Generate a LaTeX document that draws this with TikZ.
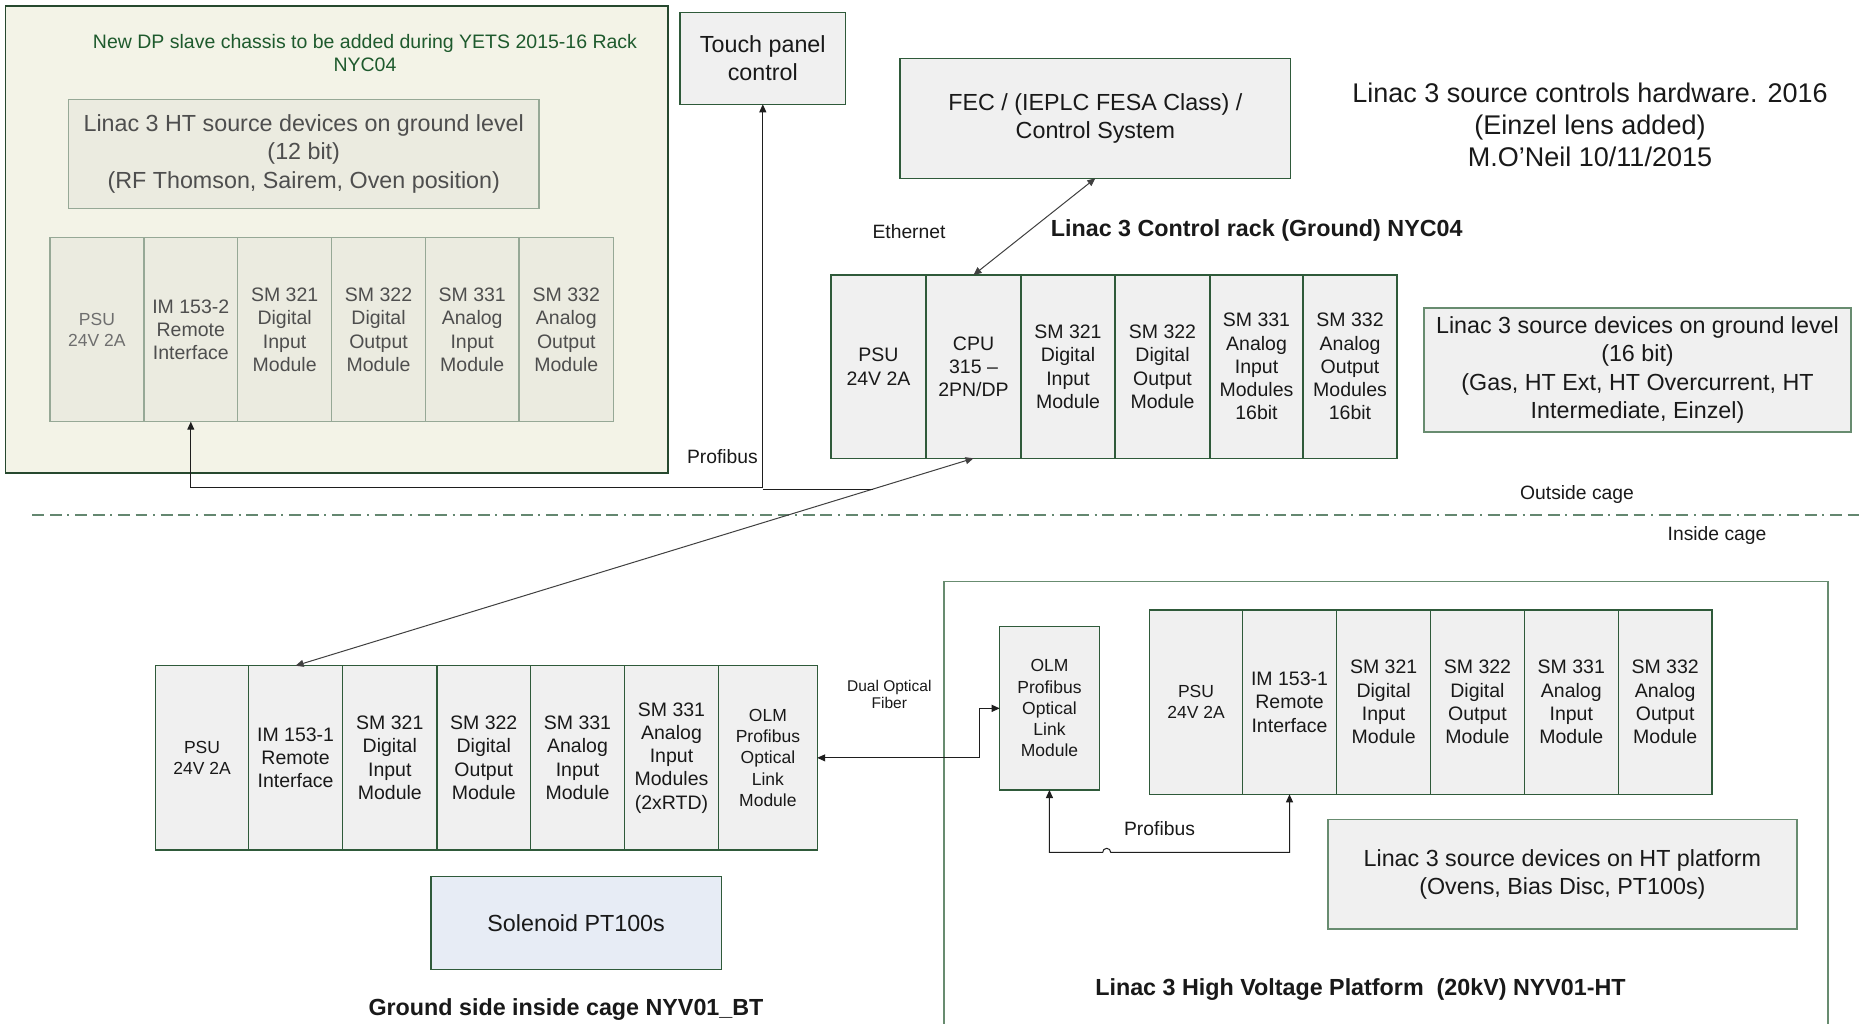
\documentclass[tikz,border=0pt]{standalone}
\usepackage{fontspec}
\setmainfont{Liberation Sans}
\usetikzlibrary{arrows.meta,calc,intersections}

\definecolor{framegreen}{RGB}{47,90,58}
\definecolor{softgreen}{RGB}{104,140,112}
\definecolor{cellfill}{RGB}{240,240,240}
\definecolor{sandfill}{RGB}{243,243,231}
\definecolor{sandcell}{RGB}{235,235,224}
\definecolor{sandedge}{RGB}{150,168,150}
\definecolor{sandtext}{RGB}{78,78,78}
\definecolor{sandpale}{RGB}{110,110,110}
\definecolor{titlegreen}{RGB}{30,90,45}
\definecolor{bluefill}{RGB}{231,236,245}
\definecolor{wireink}{RGB}{30,30,30}
\definecolor{cagegreen}{RGB}{100,135,112}
\definecolor{inktext}{RGB}{25,25,25}

\newcommand\fs[2]{\fontsize{#1}{#2}\selectfont}

\tikzset{
  box/.style={draw=framegreen, line width=1.4pt, fill=cellfill, inner sep=0pt,
    outer sep=0pt, align=center, text=inktext, anchor=north west},
  modtext/.style={font=\fs{19.5}{23.3}},
  smalltext/.style={font=\fs{17.5}{21.2}},
  bigtext/.style={font=\fs{23.3}{28.2}},
  sandbox/.style={box, draw=sandedge, fill=sandcell, text=sandtext},
  tip/.tip={Triangle[length=8pt,width=7pt]},
  wire/.style={draw=wireink, line width=1pt, tip-tip},
  plainwire/.style={draw=wireink, line width=1pt},
  tag/.style={font=\fs{19.3}{23}, inner sep=0pt, text=inktext, align=center},
  heading/.style={font=\bfseries\fs{23.3}{28}, inner sep=0pt, text=inktext},
}

\begin{document}
\begin{tikzpicture}[x=1pt,y=-1pt]
\useasboundingbox[fill=white] (0,0) rectangle (1860,1023);

% ---- DP slave chassis planned for rack NYC04 ----
\node[box, draw=framegreen!80!black, fill=sandfill, minimum width=662.5pt, minimum height=467pt] (yets) at (5.5,6) {};
\node[font=\fs{19.5}{23.3}, text=titlegreen, align=center, inner sep=0pt] (yetsnote) at (365,53)
  {New DP slave chassis to be added during YETS 2015-16 Rack\\NYC04};
\node[sandbox, bigtext, minimum width=470.5pt, minimum height=109pt] (htground) at (68.5,99.3)
  {Linac 3 HT source devices on ground level\\(12 bit)\\(RF Thomson, Sairem, Oven position)};

\node[sandbox, smalltext, text=sandpale, minimum width=94.1pt, minimum height=184pt] (tpsu) at (49.9,237.7) {PSU\\24V 2A};
\node[sandbox, modtext, minimum width=93.6pt, minimum height=184pt] (tim) at (144,237.7) {IM 153-2\\Remote\\Interface};
\node[sandbox, modtext, minimum width=94.1pt, minimum height=184pt] (tdi) at (237.6,237.7) {SM 321\\Digital\\Input\\Module};
\node[sandbox, modtext, minimum width=93.7pt, minimum height=184pt] (tdo) at (331.7,237.7) {SM 322\\Digital\\Output\\Module};
\node[sandbox, modtext, minimum width=93.6pt, minimum height=184pt] (tai) at (425.4,237.7) {SM 331\\Analog\\Input\\Module};
\node[sandbox, modtext, minimum width=94.6pt, minimum height=184pt] (tao) at (519,237.7) {SM 332\\Analog\\Output\\Module};

% ---- Control rack (ground) ----
\node[box, bigtext, minimum width=165.6pt, minimum height=92pt] (touch) at (680,12.3) {Touch panel\\control};
\node[box, bigtext, minimum width=390.7pt, minimum height=120pt] (fec) at (900,58.3) {FEC / (IEPLC FESA Class) /\\Control System};
\node[font=\fs{27}{32}, inner sep=0pt, align=center, text=inktext] (title) at (1590,124.6)
  {Linac 3 source controls hardware. 2016\\(Einzel lens added)\\M.O’Neil 10/11/2015};
\node[tag] (ethlabel) at (909,232) {Ethernet};
\node[heading] (rackhead) at (1256.7,230) {Linac 3 Control rack (Ground) NYC04};

\node[box, modtext, minimum width=95pt, minimum height=183.3pt] (cpsu) at (831,275) {PSU\\24V 2A};
\node[box, modtext, minimum width=95pt, minimum height=183.3pt] (cpu) at (926,275) {CPU\\315 –\\2PN/DP};
\node[box, modtext, minimum width=94pt, minimum height=183.3pt] (cdi) at (1021,275) {SM 321\\Digital\\Input\\Module};
\node[box, modtext, minimum width=95pt, minimum height=183.3pt] (cdo) at (1115,275) {SM 322\\Digital\\Output\\Module};
\node[box, modtext, minimum width=93pt, minimum height=183.3pt] (cai) at (1210,275) {SM 331\\Analog\\Input\\Modules\\16bit};
\node[box, modtext, minimum width=94pt, minimum height=183.3pt] (cao) at (1303,275) {SM 332\\Analog\\Output\\Modules\\16bit};

\node[box, bigtext, draw=softgreen, minimum width=427pt, minimum height=124.1pt] (gnddev) at (1424,307.9)
  {Linac 3 source devices on ground level\\(16 bit)\\(Gas, HT Ext, HT Overcurrent, HT\\Intermediate, Einzel)};

% ---- cage boundary ----
\draw[cagegreen, line width=1.7pt, dash pattern=on 12pt off 5.7pt on 11.7pt off 5.7pt on 2pt off 5.7pt] (32.3,515) -- (1860,515);
\node[tag] (outside) at (1577,494.6) {Outside cage};
\node[tag] (inside) at (1717,535.7) {Inside cage};

% ---- Ground side inside cage ----
\node[box, smalltext, minimum width=92.9pt, minimum height=184.3pt] (gpsu) at (155.6,665.7) {PSU\\24V 2A};
\node[box, modtext, minimum width=94.2pt, minimum height=184.3pt] (gim) at (248.5,665.7) {IM 153-1\\Remote\\Interface};
\node[box, modtext, minimum width=94.2pt, minimum height=184.3pt] (gdi) at (342.7,665.7) {SM 321\\Digital\\Input\\Module};
\node[box, modtext, minimum width=93.7pt, minimum height=184.3pt] (gdo) at (436.9,665.7) {SM 322\\Digital\\Output\\Module};
\node[box, modtext, minimum width=93.8pt, minimum height=184.3pt] (gai) at (530.6,665.7) {SM 331\\Analog\\Input\\Module};
\node[box, modtext, minimum width=94.2pt, minimum height=184.3pt] (grtd) at (624.4,665.7) {SM 331\\Analog\\Input\\Modules\\(2xRTD)};
\node[box, smalltext, minimum width=98.6pt, minimum height=184.3pt] (gol) at (718.6,665.7) {OLM\\Profibus\\Optical\\Link\\Module};

\node[box, bigtext, fill=bluefill, minimum width=290.3pt, minimum height=92.6pt] (solenoid) at (431,876.7) {Solenoid PT100s};
\node[heading] (gndhead) at (566,1010) {Ground side inside cage NYV01\_BT};

\node[font=\fs{15.5}{17.6}, inner sep=0pt, align=center, text=inktext] (fibre) at (889.3,694.5) {Dual Optical\\Fiber};

% ---- High voltage platform ----
\draw[softgreen, line width=1.4pt] (944,1030) -- (944,581.7) -- (1828,581.7) -- (1828,1030);
\node[box, smalltext, minimum width=99.5pt, minimum height=163.3pt] (hol) at (999.7,626.7) {OLM\\Profibus\\Optical\\Link\\Module};

\node[box, smalltext, minimum width=92.8pt, minimum height=184.3pt] (hpsu) at (1149.6,610) {PSU\\24V 2A};
\node[box, modtext, minimum width=94.2pt, minimum height=184.3pt] (him) at (1242.4,610) {IM 153-1\\Remote\\Interface};
\node[box, modtext, minimum width=94.1pt, minimum height=184.3pt] (hdi) at (1336.6,610) {SM 321\\Digital\\Input\\Module};
\node[box, modtext, minimum width=93.5pt, minimum height=184.3pt] (hdo) at (1430.7,610) {SM 322\\Digital\\Output\\Module};
\node[box, modtext, minimum width=94.2pt, minimum height=184.3pt] (hai) at (1524.2,610) {SM 331\\Analog\\Input\\Module};
\node[box, modtext, minimum width=93.5pt, minimum height=184.3pt] (hao) at (1618.4,610) {SM 332\\Analog\\Output\\Module};

\node[box, bigtext, draw=softgreen, minimum width=468.8pt, minimum height=109.7pt] (htdev) at (1328,819.3)
  {Linac 3 source devices on HT platform\\(Ovens, Bias Disc, PT100s)};
\node[tag] (htbus) at (1159.5,828.3) {Profibus};
\node[heading] (hthead) at (1360.5,990) {Linac 3 High Voltage Platform~ (20kV) NYV01-HT};

% ---- connections ----
\draw[wire, draw=wireink!85] (cpu.north) -- (fec.south);
\draw[wire, draw=wireink!85] (gim.north) -- (cpu.south);
\draw[wire] (tim.south) -- ++(0,65.3) -| (touch.south);
\node[tag, anchor=east] (bus) at (758,456.7) {Profibus};
\path[name path=diag] (gim.north) -- (cpu.south);
\path[name path=busrun] (touch.south |- tim.south) ++(0,67.3) -- ++(300,0);
\path[name intersections={of=diag and busrun, by=tap}];
\draw[plainwire] (touch.south |- tap) -- (tap);

\draw[wire] (gol.east) -| ([xshift=-20pt]hol.west) -- (hol.west);
\draw[wire] (hol.south) |- (1102.7,852.3) arc[start angle=180, end angle=0, radius=4pt] -| (him.south);
\end{tikzpicture}
\end{document}
